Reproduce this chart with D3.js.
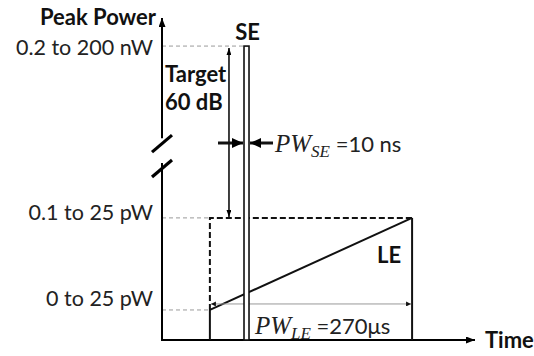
<!DOCTYPE html>
<html>
<head>
<meta charset="utf-8">
<script src="https://cdn.jsdelivr.net/npm/d3@7"></script>
<style>
  html, body { margin: 0; padding: 0; background: #fff; }
  svg { display: block; }
  .bold { font-family: Lato, "Open Sans", sans-serif; font-weight: 700; }
  .reg { font-family: Lato, "Open Sans", sans-serif; }
  .math { font-family: "Liberation Serif", "DejaVu Serif", serif; font-style: italic; }
</style>
</head>
<body>
<svg id="chart" width="534" height="356"></svg>
<script>
// Power levels (arbitrary diagram units) and their labels
const levelLabels = ["0.2 to 200 nW", "0.1 to 25 pW", "0 to 25 pW"];
const levelValues = [91, 37.8, 9.3];

// Short emission (SE) pulse: start / end time, peak level
const sePulse = [26.2, 27.8];
const sePeak = 91;

// Long emission (LE) ramp: start / end time, start / end level
const leTime = [15.3, 79.9];
const leLevel = [9.3, 37.8];

// Dynamic range marker position
const targetTime = 21.4;

// Axis break: where the upper segment stops and the lower one resumes
const breakAt = [62.5, 54.8];

const svg = d3.select("#chart");

const x = d3.scaleLinear().domain([0, 100]).range([162, 475]);
const y = d3.scaleLinear().domain([0, 100]).range([340, 17]);

const defs = svg.append("defs");
function marker(id, w, h, color) {
  defs.append("marker")
    .attr("id", id)
    .attr("viewBox", `0 0 ${w} ${h}`)
    .attr("refX", w).attr("refY", h / 2)
    .attr("markerWidth", w).attr("markerHeight", h)
    .attr("markerUnits", "userSpaceOnUse")
    .attr("orient", "auto-start-reverse")
    .append("path")
    .attr("d", `M0,0L${w},${h / 2}L0,${h}Z`)
    .attr("fill", color);
}
marker("axisHead", 9, 7, "#000");
marker("thinHead", 7, 5, "#000");
marker("bigHead", 11, 10, "#000");
marker("dimHead", 5, 5, "#111");

const g = svg.append("g");

// Gray dashed guide lines from the power axis
const guideEnds = [sePulse[0], leTime[0], leTime[0]];
levelValues.forEach((v, i) => {
  g.append("line")
    .attr("x1", x(0)).attr("x2", x(guideEnds[i]))
    .attr("y1", y(v)).attr("y2", y(v))
    .attr("stroke", "#9a9a9a").attr("stroke-width", 1)
    .attr("stroke-dasharray", "4,3");
});

// Level labels
const labelShift = [9, 2, -4];
levelLabels.forEach((t, i) => {
  g.append("text").attr("class", "reg")
    .attr("x", x(0) - 9).attr("y", y(levelValues[i]) + labelShift[i])
    .attr("text-anchor", "end")
    .attr("font-size", 21.5).attr("fill", "#222")
    .text(t);
});

// Power axis (with break)
g.append("line")
  .attr("x1", x(0)).attr("x2", x(0))
  .attr("y1", y(breakAt[0])).attr("y2", y(100) + 1)
  .attr("stroke", "#000").attr("stroke-width", 2)
  .attr("marker-end", "url(#axisHead)");
g.append("line")
  .attr("x1", x(0)).attr("x2", x(0))
  .attr("y1", y(0) + 1).attr("y2", y(breakAt[1]))
  .attr("stroke", "#000").attr("stroke-width", 2);
breakAt.forEach(b => {
  g.append("line")
    .attr("x1", x(0) - 10).attr("y1", y(b) + 14)
    .attr("x2", x(0) + 10).attr("y2", y(b) - 3)
    .attr("stroke", "#000").attr("stroke-width", 3.2);
});

// Time axis
g.append("line")
  .attr("x1", x(0) - 1).attr("x2", x(100))
  .attr("y1", y(0)).attr("y2", y(0))
  .attr("stroke", "#000").attr("stroke-width", 2)
  .attr("marker-end", "url(#axisHead)");

// Axis titles
g.append("text").attr("class", "bold")
  .attr("x", x(0) - 6).attr("y", 25).attr("text-anchor", "end")
  .attr("font-size", 22).attr("fill", "#111").text("Peak Power");
g.append("text").attr("class", "bold")
  .attr("x", x(100) + 10).attr("y", 348)
  .attr("font-size", 22).attr("fill", "#111").text("Time");

// LE dashed envelope
g.append("path")
  .attr("d", d3.line()([[x(leTime[0]), y(leLevel[0])], [x(leTime[0]), y(leLevel[1])], [x(leTime[1]), y(leLevel[1])]]))
  .attr("fill", "none").attr("stroke", "#111").attr("stroke-width", 2)
  .attr("stroke-dasharray", "6,3");

// LE solid edges and ramp
g.append("line")
  .attr("x1", x(leTime[0])).attr("x2", x(leTime[0]))
  .attr("y1", y(0)).attr("y2", y(leLevel[0]))
  .attr("stroke", "#111").attr("stroke-width", 2);
g.append("line")
  .attr("x1", x(leTime[1])).attr("x2", x(leTime[1]))
  .attr("y1", y(0)).attr("y2", y(leLevel[1]))
  .attr("stroke", "#111").attr("stroke-width", 2);
g.append("line")
  .attr("x1", x(leTime[0])).attr("y1", y(leLevel[0]))
  .attr("x2", x(leTime[1])).attr("y2", y(leLevel[1]))
  .attr("stroke", "#111").attr("stroke-width", 2);

// LE width dimension
g.append("line")
  .attr("x1", x(leTime[0]) + 1).attr("x2", x(leTime[1]) - 1)
  .attr("y1", y(leLevel[0]) - 6).attr("y2", y(leLevel[0]) - 6)
  .attr("stroke", "#999").attr("stroke-width", 1)
  .attr("marker-start", "url(#dimHead)").attr("marker-end", "url(#dimHead)");

// SE pulse (narrow outlined bar)
g.append("rect")
  .attr("x", x(sePulse[0])).attr("width", x(sePulse[1]) - x(sePulse[0]))
  .attr("y", y(sePeak)).attr("height", y(0) - y(sePeak))
  .attr("fill", "#fff").attr("stroke", "#111").attr("stroke-width", 1.6);

// Target dynamic range arrow
g.append("line")
  .attr("x1", x(targetTime)).attr("x2", x(targetTime))
  .attr("y1", y(leLevel[1]) - 1).attr("y2", y(sePeak) + 2)
  .attr("stroke", "#111").attr("stroke-width", 1.6)
  .attr("marker-start", "url(#thinHead)").attr("marker-end", "url(#thinHead)");

// SE width arrows
const arrowY = 143;
g.append("line")
  .attr("x1", x(sePulse[0]) - 26).attr("x2", x(sePulse[0]) - 1)
  .attr("y1", arrowY).attr("y2", arrowY)
  .attr("stroke", "#111").attr("stroke-width", 3)
  .attr("marker-end", "url(#bigHead)");
g.append("line")
  .attr("x1", x(sePulse[1]) + 24).attr("x2", x(sePulse[1]) + 1)
  .attr("y1", arrowY).attr("y2", arrowY)
  .attr("stroke", "#111").attr("stroke-width", 3)
  .attr("marker-end", "url(#bigHead)");

// Labels
g.append("text").attr("class", "bold")
  .attr("x", x((sePulse[0] + sePulse[1]) / 2) + 1).attr("y", 40).attr("text-anchor", "middle")
  .attr("font-size", 22).attr("fill", "#111").text("SE");
g.append("text").attr("class", "bold")
  .attr("x", 165).attr("y", 82)
  .attr("font-size", 22).attr("fill", "#111").text("Target");
g.append("text").attr("class", "bold")
  .attr("x", 165).attr("y", 110)
  .attr("font-size", 22).attr("fill", "#111").text("60 dB");
g.append("text").attr("class", "bold")
  .attr("x", 377).attr("y", 263)
  .attr("font-size", 22).attr("fill", "#111").text("LE");

function pwLabel(px, py, sub, value) {
  const t = g.append("text").attr("x", px).attr("y", py).attr("fill", "#222");
  t.append("tspan").attr("class", "math").attr("font-size", 25).text("PW");
  t.append("tspan").attr("class", "math").attr("font-size", 17).attr("dy", 5).text(sub);
  t.append("tspan").attr("class", "reg").attr("font-size", 22).attr("dy", -5).text(" " + value);
}
pwLabel(275, 152, "SE", "=10 ns");
pwLabel(255, 334, "LE", "=270μs");
</script>
</body>
</html>
